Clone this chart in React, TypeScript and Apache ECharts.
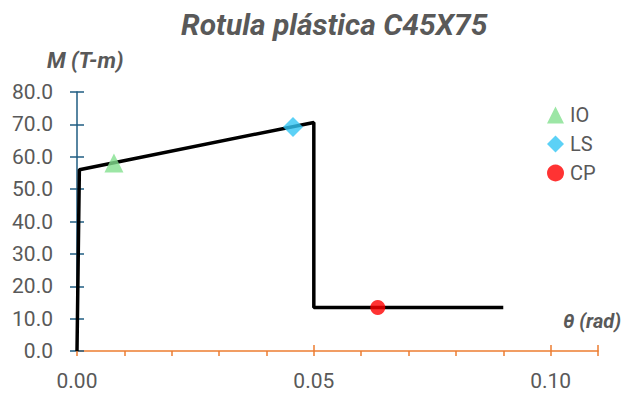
import React, { useEffect, useRef } from "react";
import * as echarts from "echarts";

const titleText = "Rotula plástica C45X75";
const yAxisName = "M (T-m)";
const xAxisName = "θ (rad)";
const curve: [number, number][] = [
  [0, 0],
  [0.0005, 56],
  [0.05, 70.6],
  [0.05, 13.4],
  [0.09, 13.4],
];
const ioPoint: [number, number][] = [[0.0078, 58.1]];
const lsPoint: [number, number][] = [[0.0456, 69.2]];
const cpPoint: [number, number][] = [[0.0635, 13.4]];
const xMin = 0;
const xMax = 0.11;
const yMin = 0;
const yMax = 80;

const FONT = "Roboto, 'Liberation Sans', sans-serif";
const GRAY = "#595959";
const BLUE = "#1f5c82";
const ORANGE = "#ed7d31";

export default function App() {
  const ref = useRef<HTMLDivElement>(null);
  useEffect(() => {
    if (!ref.current) return;
    const chart = echarts.init(ref.current, undefined, { renderer: "svg" });
    chart.setOption({
      animation: false,
      backgroundColor: "#ffffff",
      title: {
        text: titleText,
        left: 176,
        top: 4,
        textStyle: {
          fontFamily: FONT,
          fontSize: 30,
          fontWeight: "bold",
          fontStyle: "italic",
          color: GRAY,
        },
      },
      grid: { left: 77, right: 32, top: 92, bottom: 43 },
      legend: {
        orient: "vertical",
        left: 542,
        top: 100,
        itemGap: 9,
        itemWidth: 17,
        itemHeight: 17,
        textStyle: { fontFamily: FONT, fontSize: 20, color: GRAY, padding: [0, 0, 0, 1] },
        data: [
          { name: "IO", icon: "triangle" },
          { name: "LS", icon: "diamond" },
          { name: "CP", icon: "circle" },
        ],
      },
      xAxis: [
        {
          type: "value",
          min: xMin,
          max: xMax,
          interval: 0.01,
          position: "bottom",
          axisLine: { show: true, onZero: false, lineStyle: { color: ORANGE, width: 1.5 } },
          axisTick: { show: true, length: 5, lineStyle: { color: ORANGE, width: 1.5 } },
          splitLine: { show: false },
          axisLabel: {
            margin: 19,
            fontFamily: FONT,
            fontSize: 21,
            color: GRAY,
            formatter: (v: number) => {
              const r = Math.round(v * 100);
              return r % 5 === 0 ? (r / 100).toFixed(2) : "";
            },
          },
        },
        {
          type: "value",
          min: xMin,
          max: xMax,
          interval: 0.05,
          position: "bottom",
          axisLine: { show: false },
          axisTick: { show: true, inside: true, length: 6, lineStyle: { color: ORANGE, width: 1.5 } },
          axisLabel: { show: false },
          splitLine: { show: false },
        },
      ],
      yAxis: [
        {
          type: "value",
          min: yMin,
          max: yMax,
          interval: 10,
          position: "left",
          axisLine: { show: true, onZero: false, lineStyle: { color: BLUE, width: 1.5 } },
          axisTick: { show: true, length: 7, lineStyle: { color: BLUE, width: 1.5 } },
          splitLine: { show: false },
          axisLabel: {
            margin: 24,
            fontFamily: FONT,
            fontSize: 21,
            color: GRAY,
            formatter: (v: number) => v.toFixed(1),
          },
        },
        {
          type: "value",
          min: yMin,
          max: yMax,
          interval: 10,
          position: "left",
          axisLine: { show: false },
          axisTick: { show: true, inside: true, length: 7, lineStyle: { color: BLUE, width: 1.5 } },
          axisLabel: { show: false },
          splitLine: { show: false },
        },
      ],
      graphic: [
        {
          type: "text",
          left: 47,
          top: 49,
          style: {
            text: yAxisName,
            fontFamily: FONT,
            fontSize: 22,
            fontWeight: "bold",
            fontStyle: "italic",
            fill: GRAY,
          },
        },
        {
          type: "text",
          right: 9,
          top: 311,
          style: {
            text: xAxisName,
            fontFamily: FONT,
            fontSize: 20,
            fontWeight: "bold",
            fontStyle: "italic",
            fill: GRAY,
          },
        },
      ],
      series: [
        {
          type: "line",
          name: "curve",
          data: curve,
          showSymbol: false,
          symbol: "none",
          lineStyle: { color: "#000000", width: 3.5 },
          itemStyle: { color: "#000000" },
          z: 2,
        },
        {
          type: "scatter",
          name: "IO",
          data: ioPoint,
          symbol: "triangle",
          symbolSize: 19,
          itemStyle: { color: "#83e08f" },
          z: 5,
        },
        {
          type: "scatter",
          name: "LS",
          data: lsPoint,
          symbol: "diamond",
          symbolSize: 20,
          itemStyle: { color: "#33c6f4" },
          z: 5,
        },
        {
          type: "scatter",
          name: "CP",
          data: cpPoint,
          symbol: "circle",
          symbolSize: 15,
          itemStyle: { color: "#ff0000" },
          z: 5,
        },
      ],
    });
    return () => chart.dispose();
  }, []);
  return <div ref={ref} style={{ width: 630, height: 394, position: "fixed", left: 0, top: 0 }} />;
}
